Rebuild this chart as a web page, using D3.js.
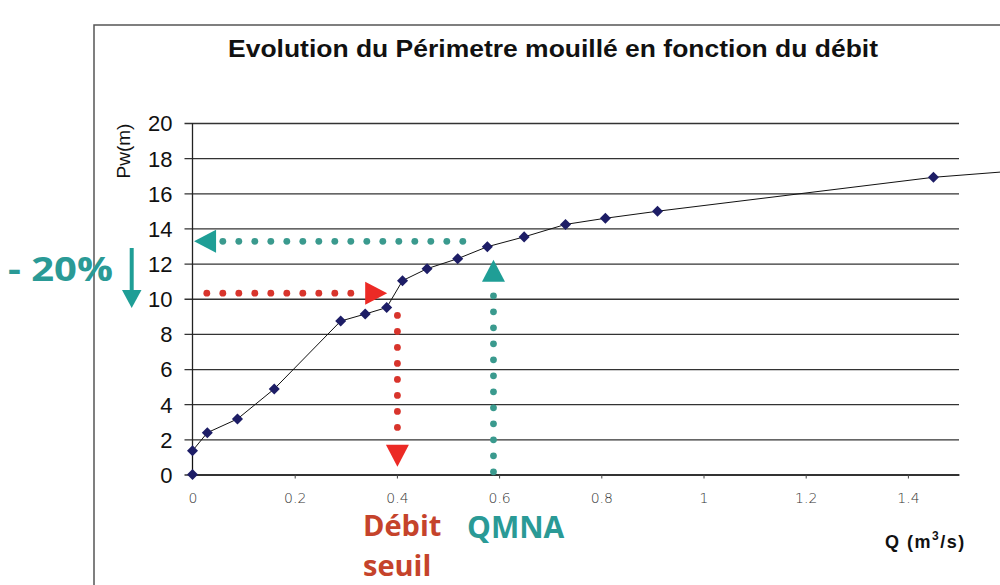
<!DOCTYPE html>
<html>
<head>
<meta charset="utf-8">
<script src="https://cdn.jsdelivr.net/npm/d3@7"></script>
<style>
  body { margin: 0; background: #fff; }
  svg { display: block; }
</style>
</head>
<body>
<div id="chart"></div>
<script>
// débit Q (m3/s) et périmètre mouillé Pw (m)
const qValues  = [0, 0, 0.029, 0.088, 0.16, 0.29, 0.338, 0.38, 0.411, 0.459, 0.519, 0.577, 0.649, 0.73, 0.808, 0.91, 1.45];
const pwValues = [0, 1.35, 2.38, 3.16, 4.87, 8.73, 9.13, 9.5, 11.03, 11.71, 12.28, 12.96, 13.52, 14.23, 14.58, 14.98, 16.91];
// la courbe continue au-delà du cadre
const lineTail = [1.6, 17.25];

const yTicks = [0, 2, 4, 6, 8, 10, 12, 14, 16, 18, 20];
const xTicks = [0, 0.2, 0.4, 0.6, 0.8, 1, 1.2, 1.4];

// flèches pointillées : [q, pw] début -> fin
const arrows = [
    { from: [0.028, 10.32], to: [0.381, 10.32], color: '#d8342c', head: '#ec2a25' },
    { from: [0.401, 9.05], to: [0.401, 0.44], color: '#d8342c', head: '#ec2a25' },
    { from: [0.529, 13.27], to: [0.003, 13.27], color: '#3a9a8e', head: '#1f9e96' },
    { from: [0.589, 0.15], to: [0.589, 12.22], color: '#3a9a8e', head: '#1f9e96' }
];

const W = 1000, H = 585;
const svg = d3.select('#chart').append('svg')
    .attr('width', W)
    .attr('height', H);

svg.append('rect').attr('width', W).attr('height', H).attr('fill', '#fff');

// cadre du graphique
svg.append('path')
    .attr('d', `M94,${H + 2}V25H${W + 2}`)
    .attr('fill', 'none')
    .attr('stroke', '#555')
    .attr('stroke-width', 1.5);

svg.append('text')
    .attr('x', 553)
    .attr('y', 57)
    .attr('text-anchor', 'middle')
    .attr('font-family', 'Liberation Sans, Arial, sans-serif')
    .attr('font-weight', 'bold')
    .attr('font-size', 23)
    .attr('textLength', 650)
    .attr('lengthAdjust', 'spacingAndGlyphs')
    .attr('fill', '#111')
    .text('Evolution du Périmetre mouillé en fonction du débit');

const x = d3.scaleLinear().domain([0, 1.5]).range([192.5, 959]);
const y = d3.scaleLinear().domain([0, 20]).range([474.5, 123]);

// grille horizontale + graduations Y
const yAxis = svg.append('g')
    .attr('transform', `translate(${x(0)},0)`)
    .call(d3.axisLeft(y).tickValues(yTicks).tickSize(-(x(1.5) - x(0))).tickSizeOuter(0).tickPadding(20));
yAxis.select('.domain').remove();
yAxis.selectAll('.tick line')
    .attr('x1', -8)
    .attr('stroke', '#333')
    .attr('stroke-width', 1.3);
yAxis.selectAll('.tick text')
    .attr('font-family', 'Liberation Sans, Arial, sans-serif')
    .attr('font-size', 22)
    .attr('fill', '#111')
    .attr('dy', '0.36em');

const xAxis = svg.append('g')
    .attr('transform', `translate(0,${y(0)})`)
    .call(d3.axisBottom(x).tickValues(xTicks).tickSize(4).tickSizeOuter(0).tickPadding(15).tickFormat(d3.format('')));
xAxis.select('.domain').attr('stroke', '#222').attr('stroke-width', 1.3);
xAxis.selectAll('.tick line').attr('stroke', '#444');
xAxis.selectAll('.tick text')
    .attr('font-family', 'DejaVu Sans, sans-serif')
    .attr('font-weight', 200)
    .attr('font-size', 14)
    .attr('fill', '#333');

svg.append('line')
    .attr('x1', x(0)).attr('x2', x(0))
    .attr('y1', y(20)).attr('y2', y(0))
    .attr('stroke', '#222')
    .attr('stroke-width', 1.3);

svg.append('text')
    .attr('transform', `translate(130,151) rotate(-90)`)
    .attr('text-anchor', 'middle')
    .attr('font-family', 'Liberation Sans, Arial, sans-serif')
    .attr('font-size', 19)
    .attr('fill', '#111')
    .text('Pw(m)');

const qLabel = svg.append('text')
    .attr('x', 885)
    .attr('y', 548)
    .attr('font-family', 'Liberation Sans, Arial, sans-serif')
    .attr('font-weight', 'bold')
    .attr('font-size', 18)
    .attr('letter-spacing', 1.5)
    .attr('fill', '#111');
qLabel.append('tspan').text('Q (m');
qLabel.append('tspan').attr('dy', -8).attr('font-size', 12).text('3');
qLabel.append('tspan').attr('dy', 8).text('/s)');

// flèches pointillées
arrows.forEach(a => {
    const x0 = x(a.from[0]), y0 = y(a.from[1]);
    const x1 = x(a.to[0]), y1 = y(a.to[1]);
    const len = Math.hypot(x1 - x0, y1 - y0);
    const ux = (x1 - x0) / len, uy = (y1 - y0) / len;
    const headLen = 22, headHalf = 11.5;
    const g = svg.append('g');
    const dots = d3.range(0, len - headLen - 6, 16);
    g.selectAll('circle')
        .data(dots)
        .join('circle')
        .attr('cx', d => x0 + ux * d)
        .attr('cy', d => y0 + uy * d)
        .attr('r', 3.4)
        .attr('fill', a.color);
    const bx = x1 - ux * headLen, by = y1 - uy * headLen;
    g.append('path')
        .attr('d', `M${x1},${y1}L${bx - uy * headHalf},${by + ux * headHalf}L${bx + uy * headHalf},${by - ux * headHalf}Z`)
        .attr('fill', a.head);
});

// courbe
const pts = qValues.map((q, i) => [q, pwValues[i]]);
svg.append('path')
    .datum(pts.concat([lineTail]))
    .attr('d', d3.line().x(d => x(d[0])).y(d => y(d[1])))
    .attr('fill', 'none')
    .attr('stroke', '#111')
    .attr('stroke-width', 1);

svg.selectAll('rect.pt')
    .data(pts)
    .join('rect')
    .attr('class', 'pt')
    .attr('x', -3.9).attr('y', -3.9)
    .attr('width', 7.8).attr('height', 7.8)
    .attr('transform', d => `translate(${x(d[0])},${y(d[1])}) rotate(45)`)
    .attr('fill', '#1d1d66');

// annotations
const bold = 'Open Sans, sans-serif';
svg.append('text')
    .attr('x', 8).attr('y', 281)
    .attr('font-family', bold).attr('font-weight', 'bold').attr('font-size', 34)
    .attr('textLength', 105).attr('lengthAdjust', 'spacingAndGlyphs')
    .attr('fill', '#2a9a96')
    .text('- 20%');

svg.append('line')
    .attr('x1', 131.7).attr('x2', 131.7)
    .attr('y1', 248).attr('y2', 292)
    .attr('stroke', '#1f9e96').attr('stroke-width', 4);
svg.append('path')
    .attr('d', 'M122,290L141.5,290L131.7,308Z')
    .attr('fill', '#1f9e96');

const seuil = svg.append('text')
    .attr('x', 363).attr('y', 536)
    .attr('font-family', bold).attr('font-weight', 'bold').attr('font-size', 29)
    .attr('fill', '#c5432b');
seuil.append('tspan').attr('x', 363).text('Débit');
seuil.append('tspan').attr('x', 363).attr('dy', 39.6).text('seuil');

svg.append('text')
    .attr('x', 467).attr('y', 538)
    .attr('font-family', bold).attr('font-weight', 'bold').attr('font-size', 30)
    .attr('fill', '#2a9a96')
    .text('QMNA');
</script>
</body>
</html>
